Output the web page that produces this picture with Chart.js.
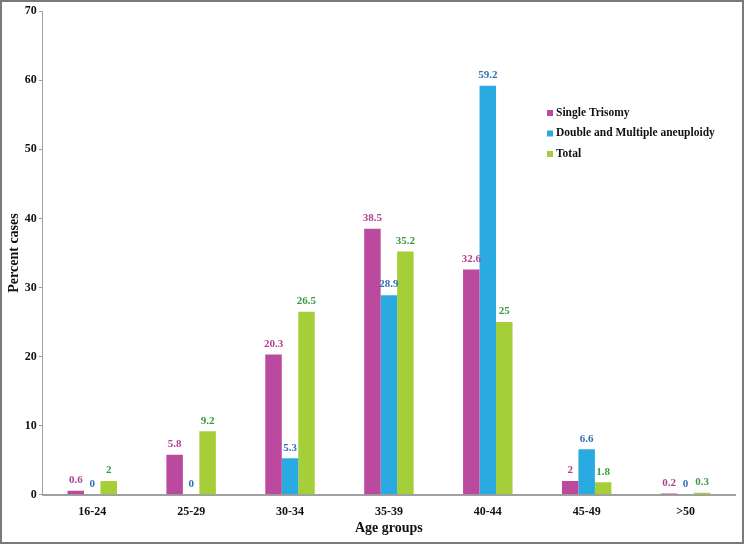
<!DOCTYPE html>
<html>
<head>
<meta charset="utf-8">
<script src="https://cdn.jsdelivr.net/npm/chart.js@4"></script>
<style>
  html, body { margin: 0; padding: 0; background: #fff; }
  #wrap { width: 744px; height: 544px; box-sizing: border-box; border: 2px solid #7a7a7a; }
  canvas { display: block; }
</style>
</head>
<body>
<div id="wrap"><canvas id="c" width="740" height="540"></canvas></div>
<script>
// age groups and percentages
const ageGroups = ['16-24', '25-29', '30-34', '35-39', '40-44', '45-49', '>50'];
const singleTrisomy = [0.6, 5.8, 20.3, 38.5, 32.6, 2, 0.2];
const doubleMultiple = [0, 0, 5.3, 28.9, 59.2, 6.6, 0];
const total = [2, 9.2, 26.5, 35.2, 25, 1.8, 0.3];
const yTicks = [0, 10, 20, 30, 40, 50, 60, 70];

const serif = "'Liberation Serif', 'Times New Roman', serif";

// value labels above each bar, in the series' label colour
const valueLabels = {
  id: 'valueLabels',
  afterDatasetsDraw(chart) {
    const ctx = chart.ctx;
    ctx.save();
    ctx.font = 'bold 11px ' + serif;
    ctx.textAlign = 'center';
    ctx.textBaseline = 'bottom';
    chart.data.datasets.forEach((ds, i) => {
      const meta = chart.getDatasetMeta(i);
      meta.data.forEach((bar, j) => {
        ctx.fillStyle = ds.labelColor;
        ctx.fillText(String(ds.data[j]), bar.x, bar.y - 5);
      });
    });
    ctx.restore();
  }
};

// legend drawn inside the plot, to the right of the tall bar
const innerLegend = {
  id: 'innerLegend',
  afterDraw(chart) {
    const ctx = chart.ctx;
    ctx.save();
    ctx.font = 'bold 11.5px ' + serif;
    ctx.textBaseline = 'middle';
    ctx.textAlign = 'left';
    let y = 111;
    chart.data.datasets.forEach(ds => {
      ctx.fillStyle = ds.backgroundColor;
      ctx.fillRect(545, y - 3, 6, 6);
      ctx.fillStyle = '#111';
      ctx.fillText(ds.label, 554, y);
      y += 20.5;
    });
    ctx.restore();
  }
};

new Chart(document.getElementById('c'), {
  type: 'bar',
  data: {
    labels: ageGroups,
    datasets: [
      { label: 'Single Trisomy', data: singleTrisomy, backgroundColor: '#bb4a9e', labelColor: '#b0408f' },
      { label: 'Double and Multiple aneuploidy', data: doubleMultiple, backgroundColor: '#29abe2', labelColor: '#2f6fb8' },
      { label: 'Total', data: total, backgroundColor: '#a6ce39', labelColor: '#3a9a3e' }
    ]
  },
  options: {
    responsive: false,
    animation: false,
    layout: { padding: { top: 0, right: 7, left: 4, bottom: 5 } },
    plugins: {
      legend: { display: false },
      tooltip: { enabled: false }
    },
    datasets: {
      bar: { barPercentage: 1, categoryPercentage: 0.5 }
    },
    scales: {
      x: {
        grid: { display: false, drawTicks: false },
        border: { color: '#a0a0a0', width: 2 },
        ticks: { color: '#111', font: { family: serif, weight: 'bold', size: 12 }, padding: 10 },
        title: { display: true, text: 'Age groups', color: '#111', font: { family: serif, weight: 'bold', size: 14 }, padding: { top: -9, bottom: 0 } }
      },
      y: {
        min: 0,
        max: 70,
        afterBuildTicks(axis) { axis.ticks = yTicks.map(v => ({ value: v })); },
        grid: { display: true, drawOnChartArea: false, drawTicks: true, tickLength: 4, color: '#a0a0a0' },
        border: { color: '#a0a0a0', width: 1 },
        ticks: { color: '#111', font: { family: serif, weight: 'bold', size: 12 }, padding: 2 },
        title: { display: true, text: 'Percent cases', color: '#111', font: { family: serif, weight: 'bold', size: 14 }, padding: { top: 0, bottom: 0 } }
      }
    }
  },
  plugins: [valueLabels, innerLegend]
});
</script>
</body>
</html>
